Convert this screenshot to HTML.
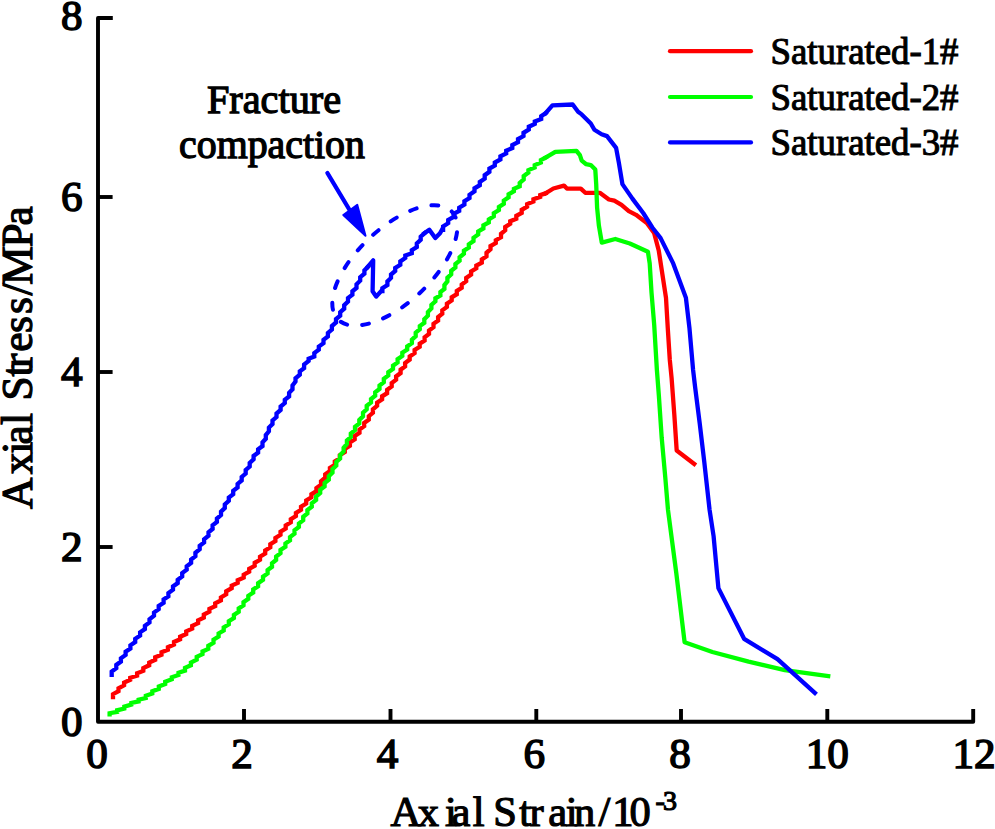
<!DOCTYPE html>
<html><head><meta charset="utf-8"><style>
html,body{margin:0;padding:0;background:#fff;}
body{width:995px;height:829px;overflow:hidden;font-family:"Liberation Serif", serif;}
svg{display:block;}
</style></head><body>
<svg width="995" height="829" viewBox="0 0 995 829"><rect width="995" height="829" fill="#fff"/><g stroke="#000" stroke-width="3.9" fill="none" stroke-linecap="butt" stroke-linejoin="round"><path d="M112.8,18 H98 V721.8 H973.2 V709"/><path d="M98,547 H112.6"/><path d="M98,372 H112.6"/><path d="M98,197 H112.6"/><path d="M244,721.8 V709"/><path d="M390.5,721.8 V709"/><path d="M536.3,721.8 V709"/><path d="M681,721.8 V709"/><path d="M827.3,721.8 V709"/></g><g font-family='"Liberation Serif", serif' font-size="43.2" font-weight="normal" fill="#000" stroke="#000" stroke-width="1.5"><text x="82.5" y="735.5" text-anchor="end">0</text><text x="82.5" y="561.0" text-anchor="end">2</text><text x="82.5" y="386.0" text-anchor="end">4</text><text x="82.5" y="211.0" text-anchor="end">6</text><text x="82.5" y="30.0" text-anchor="end">8</text><text x="97.0" y="768" text-anchor="middle">0</text><text x="242.0" y="768" text-anchor="middle">2</text><text x="387.5" y="768" text-anchor="middle">4</text><text x="534.3" y="768" text-anchor="middle">6</text><text x="680.0" y="768" text-anchor="middle">8</text><text x="827.3" y="768" text-anchor="middle">10</text><text x="974.0" y="768" text-anchor="middle">12</text></g><g fill="none" stroke-width="4.3" stroke-linejoin="miter" stroke-linecap="square"><polyline stroke="#ff0000" stroke-width="4.3" points="113.0,697.1 113.0,694.2 118.5,691.2 118.5,688.3 124.1,685.3 124.1,682.6 130.2,679.8 130.2,677.8 137.1,675.7 137.1,673.3 143.3,670.9 143.3,668.1 149.2,665.3 149.2,662.6 155.2,659.8 155.2,657.3 161.5,654.8 161.5,652.3 167.9,649.8 167.9,647.2 174.0,644.6 174.0,642.0 180.1,639.3 180.1,636.7 186.2,634.0 186.2,631.3 192.2,628.6 192.2,625.9 198.1,623.2 198.1,620.4 203.8,617.6 203.8,614.6 209.4,611.7 209.4,608.9 215.2,606.1 215.2,603.3 220.9,600.4 220.9,597.4 226.2,594.3 226.2,591.3 231.7,588.2 231.7,585.6 237.7,582.9 237.7,580.2 243.7,577.6 243.7,574.7 249.2,571.7 249.2,568.8 254.7,565.8 254.7,562.8 260.0,559.8 260.0,556.7 265.2,553.6 265.2,550.4 270.3,547.3 270.3,544.2 275.4,541.0 275.4,537.9 280.5,534.8 280.5,531.7 285.7,528.6 285.7,525.5 290.8,522.4 290.8,519.3 295.9,516.1 295.9,513.0 301.0,509.8 301.0,506.7 306.2,503.6 306.2,500.5 311.4,497.4 311.4,494.3 316.4,491.2 316.4,488.0 321.0,484.7 321.0,481.2 325.2,477.7 325.2,474.4 329.9,471.1 329.9,467.9 334.8,464.7 334.8,461.5 339.8,458.3 339.8,455.2 344.8,452.0 344.8,448.9 349.9,445.8 349.9,442.5 354.7,439.3 354.7,436.0 359.5,432.8 359.5,429.5 364.2,426.2 364.2,422.9 368.8,419.7 368.8,416.2 372.9,412.8 372.9,409.3 377.1,405.8 377.1,402.6 382.1,399.4 382.1,396.3 387.1,393.2 387.1,389.8 391.7,386.5 391.7,383.1 396.1,379.8 396.1,376.4 400.6,373.1 400.6,369.7 405.1,366.4 405.1,363.0 409.7,359.6 409.7,356.4 414.6,353.2 414.6,350.0 419.7,346.9 419.7,343.7 424.6,340.6 424.6,337.2 429.0,333.9 429.0,330.5 433.5,327.1 433.5,323.8 438.1,320.6 438.1,317.1 442.3,313.7 442.3,310.3 446.9,307.0 446.9,303.7 451.7,300.4 451.7,297.3 456.8,294.2 456.8,291.0 461.7,287.8 461.7,284.5 466.2,281.1 466.2,277.9 471.1,274.6 471.1,271.5 476.3,268.3 476.3,265.5 481.8,262.6 481.8,259.5 486.5,256.4 486.5,252.8 490.5,249.2 490.5,246.1 495.8,243.1 495.8,240.2 501.0,237.3 501.0,233.8 505.2,230.3 505.2,227.0 510.2,223.8 510.2,221.3 516.3,218.8 516.3,215.8 521.7,212.9 521.7,209.8 527.1,206.7 527.1,204.1 533.4,201.5 533.4,199.2 540.2,196.9 540.2,195.1 545.6,193.3"/><polyline stroke="#ff0000" stroke-width="4.3" stroke-linejoin="round" points="545.6,193.3 553.4,188.5 564.0,185.6 566.9,188.5 580.8,188.6 585.3,192.8 599.8,192.8 608.9,199.5 614.3,200.7 621.5,204.9 628.8,211.2 636.0,214.8 646.8,223.0 654.1,232.9 658.8,250.8 662.4,274.3 666.0,297.8 667.8,328.6 669.8,360.0 671.6,378.1 674.3,414.3 676.7,450.5 694.2,464.0"/><polyline stroke="#00ff00" stroke-width="4.3" points="109.6,714.4 109.6,713.2 117.1,711.9 117.1,710.3 124.3,708.6 124.3,706.6 131.3,704.6 131.3,703.0 138.6,701.4 138.6,699.7 145.8,698.1 145.8,695.8 152.3,693.5 152.3,691.2 158.8,688.9 158.8,686.5 165.2,684.1 165.2,681.7 171.8,679.3 171.8,677.2 178.5,675.0 178.5,672.8 185.0,670.6 185.0,667.9 190.9,665.3 190.9,662.5 196.7,659.7 196.7,656.9 202.5,654.2 202.5,651.5 208.3,648.9 208.3,645.8 213.5,642.8 213.5,639.7 218.6,636.6 218.6,633.5 223.7,630.5 223.7,627.4 228.8,624.3 228.8,621.2 233.9,618.1 233.9,615.0 238.7,611.8 238.7,608.5 243.5,605.3 243.5,602.1 248.3,598.9 248.3,595.8 253.2,592.6 253.2,589.4 258.1,586.3 258.1,583.1 263.0,579.9 263.0,576.7 267.6,573.4 267.6,570.1 272.0,566.8 272.0,563.3 276.1,559.9 276.1,556.5 280.5,553.1 280.5,550.0 285.4,546.9 285.4,543.6 290.0,540.3 290.0,537.0 294.5,533.7 294.5,530.3 298.9,527.0 298.9,523.6 303.2,520.3 303.2,516.8 307.4,513.4 307.4,510.1 311.8,506.7 311.8,503.4 316.1,500.0 316.1,496.6 320.2,493.1 320.2,489.8 324.6,486.4 324.6,483.1 328.8,479.7 328.8,476.2 332.5,472.6 332.5,469.1 336.3,465.5 336.3,462.0 340.1,458.5 340.1,455.0 343.6,451.4 343.6,447.7 346.9,444.0 346.9,440.5 350.8,437.0 350.8,433.6 355.0,430.2 355.0,426.8 359.3,423.5 359.3,419.9 363.0,416.4 363.0,412.8 366.7,409.3 366.7,405.9 371.0,402.5 371.0,399.1 375.2,395.7 375.2,392.3 379.5,388.9 379.5,385.5 383.8,382.1 383.8,378.8 388.3,375.4 388.3,372.2 393.0,368.9 393.0,365.7 397.6,362.4 397.6,359.2 402.3,355.9 402.3,352.7 407.2,349.5 407.2,346.4 411.9,343.2 411.9,339.7 415.7,336.2 415.7,332.7 419.8,329.2 419.8,326.0 424.3,322.8 424.3,319.2 427.9,315.7 427.9,312.1 431.4,308.5 431.4,304.9 435.4,301.3 435.4,298.3 440.4,295.4 440.4,292.1 444.4,288.9 444.4,285.1 447.4,281.4 447.4,277.8 451.2,274.3 451.2,270.9 455.4,267.5 455.4,264.1 459.6,260.7 459.6,257.2 463.9,253.8 463.9,250.6 468.8,247.5 468.8,244.3 473.5,241.1 473.5,237.8 478.2,234.4 478.2,231.4 483.4,228.4 483.4,225.4 488.8,222.5 488.8,219.4 493.8,216.3 493.8,213.2 498.9,210.1 498.9,207.0 503.8,203.8 503.8,200.6 508.6,197.3 508.6,194.3 513.9,191.2 513.9,188.8 519.7,186.3 519.7,182.9 523.7,179.4 523.7,176.0 528.4,172.6 528.4,170.1 534.7,167.6 534.7,165.1 540.9,162.6 540.9,160.1 545.6,157.6"/><polyline stroke="#00ff00" stroke-width="4.3" stroke-linejoin="round" points="545.6,157.6 555.3,151.8 576.5,150.8 579.9,155.1 581.7,160.6 586.2,164.2 590.8,165.1 595.3,169.6 596.2,184.1 597.1,207.6 598.9,225.7 601.8,242.6 615.3,239.0 629.8,243.5 647.9,251.7 649.7,263.4 651.5,292.4 654.2,324.9 656.9,370.0 658.9,396.2 661.7,437.8 665.3,477.6 668.0,510.0 676.2,572.4 684.6,642.3 712.4,652.0 748.6,661.6 784.8,670.1 828.2,676.1"/><polyline stroke="#0000ff" stroke-width="4.3" points="111.7,674.9 111.7,671.6 116.3,668.2 116.3,664.9 120.9,661.6 120.9,658.3 125.6,655.0 125.6,651.7 130.4,648.5 130.4,645.3 135.2,642.0 135.2,638.8 140.1,635.6 140.1,632.3 144.9,629.1 144.9,625.8 149.5,622.5 149.5,619.2 154.0,615.8 154.0,612.5 158.7,609.2 158.7,606.0 163.6,602.8 163.6,599.5 168.4,596.3 168.4,593.0 173.0,589.7 173.0,586.4 177.7,583.1 177.7,579.8 182.2,576.4 182.2,573.1 186.7,569.7 186.7,566.4 191.1,563.0 191.1,559.6 195.4,556.2 195.4,552.7 199.7,549.3 199.7,545.9 204.1,542.5 204.1,539.2 208.5,535.8 208.5,532.3 212.6,528.9 212.6,525.4 216.9,522.0 216.9,518.5 221.0,515.1 221.0,511.6 224.8,508.0 224.8,504.5 228.8,500.9 228.8,497.5 233.2,494.1 233.2,490.8 237.6,487.4 237.6,483.9 241.7,480.5 241.7,477.0 245.7,473.5 245.7,470.0 249.7,466.5 249.7,462.9 253.6,459.3 253.6,455.9 258.1,452.6 258.1,449.3 262.5,446.1 262.5,442.4 265.8,438.8 265.8,435.0 268.9,431.3 268.9,427.6 272.5,424.0 272.5,420.5 276.5,417.0 276.5,413.5 280.6,410.0 280.6,406.6 284.8,403.1 284.8,399.7 289.1,396.4 289.1,392.8 292.5,389.3 292.5,385.4 295.5,381.6 295.5,378.2 299.8,374.8 299.8,371.4 304.1,368.1 304.1,364.5 308.6,361.0 308.6,358.8 314.3,356.5 314.3,353.1 318.8,349.7 318.8,346.5 323.5,343.2 323.5,339.9 327.9,336.5 327.9,333.0 331.9,329.5 331.9,326.0 336.0,322.5 336.0,319.1 340.2,315.7 340.2,312.2 344.2,308.7 344.2,305.1 348.0,301.5 348.0,298.1 352.4,294.8 352.4,291.3 356.5,287.9 356.5,284.3 360.2,280.7 360.2,277.2 364.4,273.7 364.4,270.4 367.7,267.0"/><polyline stroke="#0000ff" stroke-width="4.3" stroke-linejoin="round" points="367.7,267.0 373.2,260.4 372.6,291.2 376.2,296.6 381.0,291.2"/><polyline stroke="#0000ff" stroke-width="4.3" points="382.4,291.2 382.4,288.1 387.4,285.0 387.4,281.5 391.0,277.9 391.0,274.5 395.2,271.0 395.2,267.9 400.3,264.8 400.3,261.4 405.3,257.9 405.3,255.6 411.8,253.2 411.8,250.1 416.8,247.1 416.8,243.5 420.7,239.9 420.7,236.6 424.4,233.3"/><polyline stroke="#0000ff" stroke-width="4.3" stroke-linejoin="round" points="424.4,233.3 429.3,229.7 435.3,238.1 440.0,233.3 441.9,229.8"/><polyline stroke="#0000ff" stroke-width="4.3" points="443.1,229.8 443.1,226.5 448.2,223.2 448.2,220.0 453.6,216.9 453.6,213.9 459.2,210.9 459.2,207.7 464.4,204.6 464.4,201.3 469.5,198.1 469.5,194.8 474.5,191.4 474.5,188.3 479.8,185.2 479.8,182.0 484.7,178.7 484.7,175.2 489.4,171.8 489.4,168.6 494.8,165.5 494.8,162.5 500.4,159.4 500.4,156.4 506.2,153.4 506.2,150.7 512.3,148.0 512.3,145.1 518.0,142.1 518.0,139.1 523.5,136.0 523.5,132.8 528.8,129.5 528.8,126.7 534.8,123.9 534.8,121.5 541.2,119.0 541.2,116.1 545.6,113.2"/><polyline stroke="#0000ff" stroke-width="4.3" stroke-linejoin="round" points="545.6,113.2 552.4,105.4 572.7,104.5 578.1,111.7 581.7,114.4 590.8,123.5 594.4,129.8 601.6,134.3 607.0,136.1 616.1,147.9 618.8,162.4 622.4,184.1 632.4,198.6 643.2,213.0 652.3,227.5 660.6,238.1 673.2,263.4 685.9,297.8 689.5,328.6 693.1,370.0 695.1,387.1 699.7,423.3 704.2,461.3 709.6,510.0 713.6,536.2 718.4,588.1 744.1,638.8 777.5,659.2 814.9,693.0"/></g><g stroke-width="4.2" stroke-linecap="round"><path d="M670,51.2 H751" stroke="#ff0000"/><path d="M670,97 H751" stroke="#00ff00"/><path d="M670,142.4 H751" stroke="#0000ff"/></g><g font-family='"Liberation Serif", serif' font-size="38.5" fill="#000" stroke="#000" stroke-width="1.1"><text x="770.5" y="64" textLength="188" lengthAdjust="spacingAndGlyphs">Saturated-1#</text><text x="770.5" y="109.8" textLength="188" lengthAdjust="spacingAndGlyphs">Saturated-2#</text><text x="770.5" y="155.2" textLength="188" lengthAdjust="spacingAndGlyphs">Saturated-3#</text></g><g font-family='"Liberation Serif", serif' font-size="41" fill="#000" stroke="#000" stroke-width="1.3"><text x="207" y="113.2" textLength="134" lengthAdjust="spacingAndGlyphs">Fracture</text><text x="179" y="158.4" textLength="186" lengthAdjust="spacingAndGlyphs">compaction</text></g><g stroke="#0000ff" fill="#0000ff" stroke-linecap="round" stroke-linejoin="round"><path d="M327.4,173 L352,214" stroke-width="4.3" fill="none"/><path d="M343.3,215 L357.3,204.9 L365.5,235.8 Z" stroke-width="2"/><ellipse cx="394.8" cy="265.4" rx="78.4" ry="37.2" transform="rotate(-43.3 394.8 265.4)" fill="none" stroke-width="4" stroke-dasharray="7 15"/></g><g font-family='"Liberation Serif", serif' font-size="42.5" fill="#000" stroke="#000" stroke-width="1.2"><text y="826.2" x="390.6 417.8 445.0 451.6 472.7 493.2 519.2 529.5 548.2 565.7 574.0 598.6 612.3 629.5">AxialStrain/10</text><text y="810" font-size="28" x="655.6 662.9">-3</text><text transform="translate(32.2,510) rotate(-90)" font-size="43.5" y="0" x="1.0 35.7 56.3 65.5 85.0 109.5 133.6 141.9 158.2 177.1 196.1 214.4 225.1 262.5 284.4">AxialStress/MPa</text></g></svg>
</body></html>
